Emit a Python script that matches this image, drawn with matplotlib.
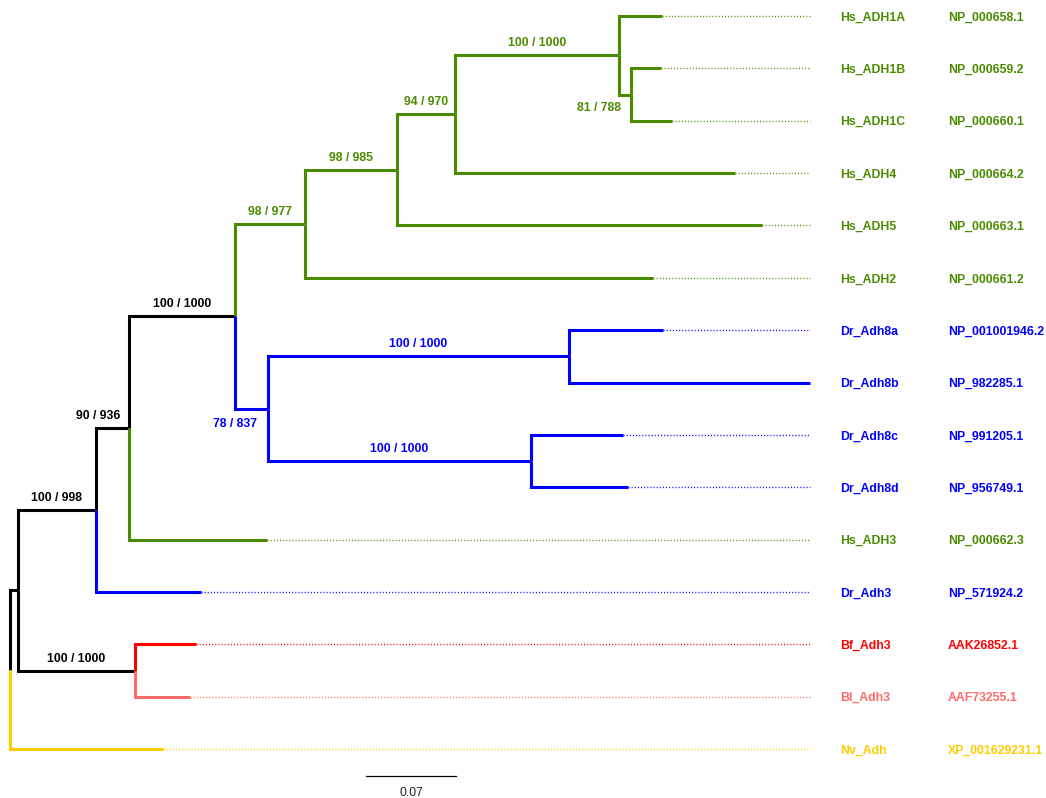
import matplotlib
matplotlib.use("Agg")
import matplotlib.pyplot as plt

# ----------------------------------------------------------------------------
# Dados: topologia, comprimentos de ramo (subst./sítio) e suportes
# ----------------------------------------------------------------------------
TIPS = ["Hs_ADH1A", "Hs_ADH1B", "Hs_ADH1C", "Hs_ADH4", "Hs_ADH5", "Hs_ADH2",
        "Dr_Adh8a", "Dr_Adh8b", "Dr_Adh8c", "Dr_Adh8d", "Hs_ADH3", "Dr_Adh3",
        "Bf_Adh3", "Bl_Adh3", "Nv_Adh"]
ACCESSIONS = ["NP_000658.1", "NP_000659.2", "NP_000660.1", "NP_000664.2",
              "NP_000663.1", "NP_000661.2", "NP_001001946.2", "NP_982285.1",
              "NP_991205.1", "NP_956749.1", "NP_000662.3", "NP_571924.2",
              "AAK26852.1", "AAF73255.1", "XP_001629231.1"]

# (filho, pai, comprimento) -- filho de cima primeiro
CHILDREN = ["n1", "Nv_Adh", "n2", "n3", "Bf_Adh3", "Bl_Adh3", "n4", "Dr_Adh3",
            "n5", "Hs_ADH3", "n6", "n7", "n8", "Hs_ADH2", "n9", "Hs_ADH5",
            "n10", "Hs_ADH4", "Hs_ADH1A", "n11", "Hs_ADH1B", "Hs_ADH1C",
            "n12", "n13", "Dr_Adh8a", "Dr_Adh8b", "Dr_Adh8c", "Dr_Adh8d"]
PARENTS = ["root", "root", "n1", "n1", "n3", "n3", "n2", "n2",
           "n4", "n4", "n5", "n5", "n6", "n6", "n8", "n8",
           "n9", "n9", "n10", "n10", "n11", "n11",
           "n7", "n7", "n12", "n12", "n13", "n13"]
LENGTHS = [0.0062, 0.1190, 0.0607, 0.0910, 0.0474, 0.0428, 0.0257, 0.0817,
           0.0824, 0.1073, 0.0544, 0.0257, 0.0716, 0.2707, 0.0451, 0.2839,
           0.1276, 0.2178, 0.0334, 0.0093, 0.0233, 0.0319,
           0.2341, 0.2046, 0.0731, 0.1874, 0.0716, 0.0754]

SUPPORT_NODES = ["n2", "n3", "n4", "n5", "n6", "n7", "n8", "n9", "n10", "n11", "n12", "n13"]
SUPPORT_TEXT = ["100 / 998", "100 / 1000", "90 / 936", "100 / 1000", "98 / 977", "78 / 837",
                "98 / 985", "94 / 970", "100 / 1000", "81 / 788", "100 / 1000", "100 / 1000"]

SCALE_LEN = 0.07

# ----------------------------------------------------------------------------
# Estilo
# ----------------------------------------------------------------------------
VERDE = "#4B8B00"
AZUL = "#0000FF"
VERM = "#FF0000"
ROSA = "#FF6A6A"
AMAR = "#FFCC00"
PRETO = "#000000"
# cor do clado herdada pelos descendentes
CLADE_COLOR = {"n6": VERDE, "Hs_ADH3": VERDE, "n7": AZUL, "Dr_Adh3": AZUL,
               "Bf_Adh3": VERM, "Bl_Adh3": ROSA, "Nv_Adh": AMAR}
FONT = "Liberation Sans"
FS = 8.8
LW = 2.2

# ----------------------------------------------------------------------------
# Layout da árvore
# ----------------------------------------------------------------------------
kids = {}
blen = {}
for c, p, l in zip(CHILDREN, PARENTS, LENGTHS):
    kids.setdefault(p, []).append(c)
    blen[c] = l

xpos, ypos, color = {"root": 0.0}, {}, {"root": PRETO}


def walk_x(n):
    for c in kids.get(n, []):
        xpos[c] = xpos[n] + blen[c]
        color[c] = CLADE_COLOR.get(c, color[n])
        walk_x(c)


def walk_y(n):
    if n not in kids:
        ypos[n] = TIPS.index(n)
    else:
        ys = [walk_y(c) for c in kids[n]]
        ypos[n] = sum(ys) / len(ys)
    return ypos[n]


walk_x("root")
walk_y("root")
xmax = max(xpos[t] for t in TIPS)

fig = plt.figure(figsize=(10.46, 7.98), dpi=100)
ax = fig.add_axes([0, 0, 1, 1])
ax.set_xlim(-0.00778, 0.8058)
ax.set_ylim(14.935, -0.3056)
ax.axis("off")

for c, p in zip(CHILDREN, PARENTS):
    ax.plot([xpos[p], xpos[p], xpos[c]], [ypos[p], ypos[c], ypos[c]],
            color=color[c], lw=LW, solid_joinstyle="miter", solid_capstyle="butt")

for t, acc in zip(TIPS, ACCESSIONS):
    if xpos[t] < xmax:
        ax.plot([xpos[t], xmax], [ypos[t], ypos[t]], color=color[t],
                lw=1.0, linestyle=(0, (0.75, 1.5)))
    for txt, dx in ((t, 30), (acc, 138)):
        ax.annotate(txt, (xmax, ypos[t]), xytext=(dx, 0), textcoords="offset pixels",
                    ha="left", va="center_baseline", color=color[t], fontsize=FS,
                    fontweight="bold", family=FONT)

# suportes (bootstrap / réplicas); ramos curtos recebem posição manual
ESPECIAL = {"n4": (-9, 9), "n7": (-11, -18), "n11": (-10, -16)}
for n, s in zip(SUPPORT_NODES, SUPPORT_TEXT):
    p = PARENTS[CHILDREN.index(n)]
    cor = color[n]
    if n in ESPECIAL:
        ax.annotate(s, (xpos[n], ypos[n]), xytext=ESPECIAL[n], textcoords="offset pixels",
                    ha="right", va="baseline", color=cor, fontsize=FS,
                    fontweight="bold", family=FONT)
    else:
        xm = (xpos[p] + xpos[n]) / 2
        ax.annotate(s, (xm, ypos[n]), xytext=(0, 9), textcoords="offset pixels",
                    ha="center", va="baseline", color=cor, fontsize=FS,
                    fontweight="bold", family=FONT)

# barra de escala
sx, sy = 0.2769, 14.515
ax.plot([sx, sx + SCALE_LEN], [sy, sy], color=PRETO, lw=0.9)
ax.annotate(f"{SCALE_LEN:.2f}", (sx + SCALE_LEN / 2, sy), xytext=(0, -20),
            textcoords="offset pixels", ha="center", va="baseline",
            fontsize=FS, family=FONT, color="#222222")

fig.savefig("out.png", dpi=100)
